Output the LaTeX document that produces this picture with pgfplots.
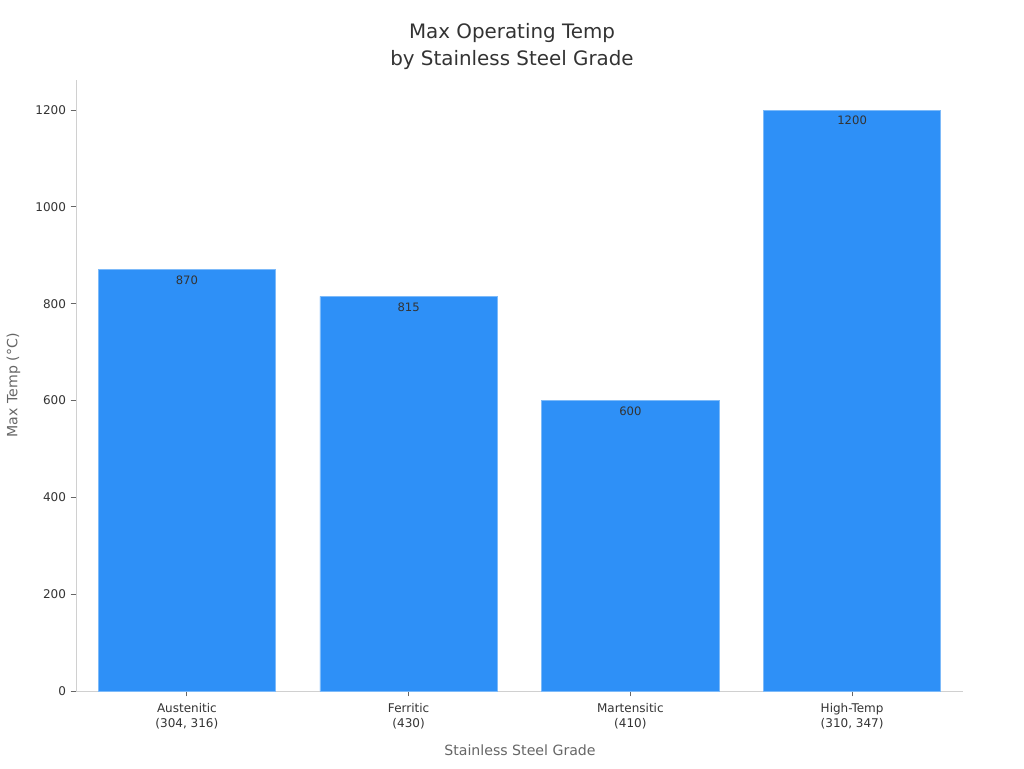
\documentclass[border=0pt]{standalone}
\usepackage{pgfplots}
\pgfplotsset{compat=1.18}
\usepackage{fontspec}
\setmainfont{DejaVu Sans}
\definecolor{barblue}{HTML}{2E90F7}
\definecolor{baredge}{HTML}{7DBAF9}
\definecolor{txt}{HTML}{333333}
\definecolor{axgray}{HTML}{D0D0D0}
\definecolor{labgray}{HTML}{666666}
\begin{document}
\begin{tikzpicture}
\path[use as bounding box] (0,0) rectangle (768pt,576pt);
\begin{axis}[
  at={(57pt,57.75pt)}, anchor=south west,
  scale only axis, width=665.25pt, height=458.25pt,
  xmin=-0.5, xmax=3.5, ymin=0, ymax=1262,
  axis lines*=left,
  axis line style={axgray, line width=0.6pt},
  ytick={0,200,400,600,800,1000,1200},
  xtick={0,1,2,3},
  xticklabels={{Austenitic\\(304, 316)},{Ferritic\\(430)},{Martensitic\\(410)},{High-Temp\\(310, 347)}},
  xticklabel style={align=center, font=\fontsize{9pt}{11.2pt}\selectfont, text=txt, yshift=-1.5pt},
  yticklabel style={font=\fontsize{9pt}{10pt}\selectfont, text=txt},
  /pgf/number format/assume math mode=true,
  /pgf/number format/1000 sep={},
  tick style={labgray, line width=0.6pt},
  tick align=outside,
  major tick length=4pt,
  ybar, bar width=133pt,
  nodes near coords,
  every node near coord/.append style={anchor=north, yshift=-1pt, font=\fontsize{8.7pt}{10pt}\selectfont, text=txt},
  clip=false,
]
\addplot[fill=barblue, draw=baredge, line width=0.6pt] coordinates {(0,870) (1,815) (2,600) (3,1200)};
\end{axis}
\node[align=center, font=\fontsize{14.9pt}{20pt}\selectfont, text=txt] at (384pt,541pt) {Max Operating Temp\\by Stainless Steel Grade};
\node[font=\fontsize{10.6pt}{12pt}\selectfont, text=labgray] at (390pt,13.2pt) {Stainless Steel Grade};
\node[font=\fontsize{10.6pt}{12pt}\selectfont, text=labgray, rotate=90] at (10.2pt,287pt) {Max Temp (°C)};
\end{tikzpicture}
\end{document}
